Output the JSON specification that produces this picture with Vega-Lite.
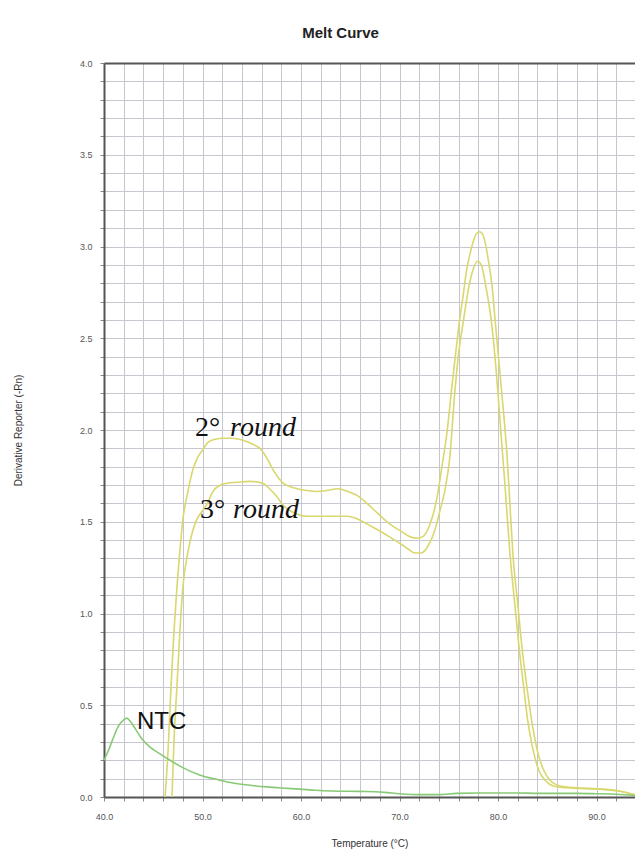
{
  "$schema": "https://vega.github.io/schema/vega-lite/v6.json",
  "width": 531,
  "height": 734,
  "autosize": {"type": "none"},
  "padding": {"left": 104, "top": 63, "right": 0, "bottom": 56},
  "background": "white",
  "title": {"text": "Melt Curve", "font": "Liberation Sans", "fontSize": 15, "fontWeight": "bold", "color": "#222222", "anchor": "middle", "dx": -29, "offset": 18},
  "config": {"view": {"stroke": null}, "font": "Liberation Sans"},
  "datasets": {
    "curves": [
      {"series": "2° round", "t": 46.2, "d": 0},
      {"series": "2° round", "t": 46.5, "d": 0.25},
      {"series": "2° round", "t": 46.8, "d": 0.6},
      {"series": "2° round", "t": 47.1, "d": 0.9},
      {"series": "2° round", "t": 47.4, "d": 1.14},
      {"series": "2° round", "t": 47.7, "d": 1.34},
      {"series": "2° round", "t": 48.0, "d": 1.51},
      {"series": "2° round", "t": 48.5, "d": 1.66},
      {"series": "2° round", "t": 49.0, "d": 1.78},
      {"series": "2° round", "t": 49.5, "d": 1.85},
      {"series": "2° round", "t": 50.0, "d": 1.89},
      {"series": "2° round", "t": 50.5, "d": 1.93},
      {"series": "2° round", "t": 51.0, "d": 1.945},
      {"series": "2° round", "t": 52.0, "d": 1.955},
      {"series": "2° round", "t": 53.0, "d": 1.955},
      {"series": "2° round", "t": 54.0, "d": 1.945},
      {"series": "2° round", "t": 55.0, "d": 1.925},
      {"series": "2° round", "t": 56.0, "d": 1.89},
      {"series": "2° round", "t": 56.6, "d": 1.84},
      {"series": "2° round", "t": 57.2, "d": 1.78},
      {"series": "2° round", "t": 58.2, "d": 1.71},
      {"series": "2° round", "t": 59.6, "d": 1.68},
      {"series": "2° round", "t": 60.6, "d": 1.67},
      {"series": "2° round", "t": 61.6, "d": 1.665},
      {"series": "2° round", "t": 62.6, "d": 1.67},
      {"series": "2° round", "t": 63.7, "d": 1.68},
      {"series": "2° round", "t": 65.0, "d": 1.66},
      {"series": "2° round", "t": 65.8, "d": 1.64},
      {"series": "2° round", "t": 66.7, "d": 1.6},
      {"series": "2° round", "t": 67.5, "d": 1.56},
      {"series": "2° round", "t": 68.3, "d": 1.52},
      {"series": "2° round", "t": 69.2, "d": 1.48},
      {"series": "2° round", "t": 70.1, "d": 1.45},
      {"series": "2° round", "t": 71.0, "d": 1.42},
      {"series": "2° round", "t": 71.8, "d": 1.41},
      {"series": "2° round", "t": 72.4, "d": 1.42},
      {"series": "2° round", "t": 72.8, "d": 1.45},
      {"series": "2° round", "t": 73.3, "d": 1.52},
      {"series": "2° round", "t": 73.8, "d": 1.63},
      {"series": "2° round", "t": 74.3, "d": 1.8},
      {"series": "2° round", "t": 74.8, "d": 1.98},
      {"series": "2° round", "t": 75.3, "d": 2.23},
      {"series": "2° round", "t": 75.7, "d": 2.42},
      {"series": "2° round", "t": 76.1, "d": 2.6},
      {"series": "2° round", "t": 76.5, "d": 2.75},
      {"series": "2° round", "t": 76.8, "d": 2.87},
      {"series": "2° round", "t": 77.2, "d": 2.97},
      {"series": "2° round", "t": 77.5, "d": 3.03},
      {"series": "2° round", "t": 77.8, "d": 3.07},
      {"series": "2° round", "t": 78.1, "d": 3.08},
      {"series": "2° round", "t": 78.4, "d": 3.07},
      {"series": "2° round", "t": 78.7, "d": 3.02},
      {"series": "2° round", "t": 79.0, "d": 2.93},
      {"series": "2° round", "t": 79.4, "d": 2.78},
      {"series": "2° round", "t": 79.7, "d": 2.6},
      {"series": "2° round", "t": 80.0, "d": 2.42},
      {"series": "2° round", "t": 80.5, "d": 2.13},
      {"series": "2° round", "t": 80.9, "d": 1.87},
      {"series": "2° round", "t": 81.2, "d": 1.6},
      {"series": "2° round", "t": 81.5, "d": 1.33},
      {"series": "2° round", "t": 82.0, "d": 1.05},
      {"series": "2° round", "t": 82.5, "d": 0.78},
      {"series": "2° round", "t": 83.0, "d": 0.57},
      {"series": "2° round", "t": 83.4, "d": 0.42},
      {"series": "2° round", "t": 84.0, "d": 0.25},
      {"series": "2° round", "t": 84.6, "d": 0.15},
      {"series": "2° round", "t": 85.3, "d": 0.09},
      {"series": "2° round", "t": 86.3, "d": 0.06},
      {"series": "2° round", "t": 88.0, "d": 0.05},
      {"series": "2° round", "t": 90.0, "d": 0.045},
      {"series": "2° round", "t": 92.0, "d": 0.035},
      {"series": "2° round", "t": 93.0, "d": 0.025},
      {"series": "2° round", "t": 94.0, "d": 0.01},
      {"series": "3° round", "t": 46.9, "d": 0},
      {"series": "3° round", "t": 47.1, "d": 0.3},
      {"series": "3° round", "t": 47.4, "d": 0.6},
      {"series": "3° round", "t": 47.7, "d": 0.9},
      {"series": "3° round", "t": 48.0, "d": 1.14},
      {"series": "3° round", "t": 48.5, "d": 1.33},
      {"series": "3° round", "t": 49.0, "d": 1.45},
      {"series": "3° round", "t": 49.4, "d": 1.51},
      {"series": "3° round", "t": 50.0, "d": 1.56},
      {"series": "3° round", "t": 50.5, "d": 1.6},
      {"series": "3° round", "t": 51.0, "d": 1.66},
      {"series": "3° round", "t": 51.8, "d": 1.7},
      {"series": "3° round", "t": 52.5, "d": 1.71},
      {"series": "3° round", "t": 53.5, "d": 1.715},
      {"series": "3° round", "t": 54.8, "d": 1.72},
      {"series": "3° round", "t": 56.1, "d": 1.71},
      {"series": "3° round", "t": 56.8, "d": 1.68},
      {"series": "3° round", "t": 57.5, "d": 1.64},
      {"series": "3° round", "t": 58.2, "d": 1.59},
      {"series": "3° round", "t": 58.9, "d": 1.56},
      {"series": "3° round", "t": 59.7, "d": 1.54},
      {"series": "3° round", "t": 60.6, "d": 1.53},
      {"series": "3° round", "t": 62.6, "d": 1.53},
      {"series": "3° round", "t": 64.7, "d": 1.53},
      {"series": "3° round", "t": 65.5, "d": 1.52},
      {"series": "3° round", "t": 66.3, "d": 1.5},
      {"series": "3° round", "t": 67.3, "d": 1.47},
      {"series": "3° round", "t": 68.3, "d": 1.44},
      {"series": "3° round", "t": 69.2, "d": 1.41},
      {"series": "3° round", "t": 70.1, "d": 1.38},
      {"series": "3° round", "t": 70.9, "d": 1.35},
      {"series": "3° round", "t": 71.6, "d": 1.33},
      {"series": "3° round", "t": 72.2, "d": 1.33},
      {"series": "3° round", "t": 72.8, "d": 1.36},
      {"series": "3° round", "t": 73.5, "d": 1.44},
      {"series": "3° round", "t": 74.1, "d": 1.56},
      {"series": "3° round", "t": 74.6, "d": 1.67},
      {"series": "3° round", "t": 75.1, "d": 1.85},
      {"series": "3° round", "t": 75.6, "d": 2.2},
      {"series": "3° round", "t": 76.0, "d": 2.42},
      {"series": "3° round", "t": 76.5, "d": 2.6},
      {"series": "3° round", "t": 77.0, "d": 2.77},
      {"series": "3° round", "t": 77.5, "d": 2.88},
      {"series": "3° round", "t": 77.9, "d": 2.92},
      {"series": "3° round", "t": 78.3, "d": 2.9},
      {"series": "3° round", "t": 78.7, "d": 2.8},
      {"series": "3° round", "t": 79.3, "d": 2.6},
      {"series": "3° round", "t": 79.8, "d": 2.33},
      {"series": "3° round", "t": 80.2, "d": 2.05},
      {"series": "3° round", "t": 80.7, "d": 1.7},
      {"series": "3° round", "t": 81.2, "d": 1.33},
      {"series": "3° round", "t": 81.7, "d": 1.05},
      {"series": "3° round", "t": 82.2, "d": 0.78},
      {"series": "3° round", "t": 82.6, "d": 0.6},
      {"series": "3° round", "t": 83.0, "d": 0.42},
      {"series": "3° round", "t": 83.5, "d": 0.27},
      {"series": "3° round", "t": 84.1, "d": 0.15},
      {"series": "3° round", "t": 84.8, "d": 0.09},
      {"series": "3° round", "t": 85.6, "d": 0.06},
      {"series": "3° round", "t": 87.0, "d": 0.05},
      {"series": "3° round", "t": 89.0, "d": 0.045},
      {"series": "3° round", "t": 91.0, "d": 0.04},
      {"series": "3° round", "t": 92.5, "d": 0.03},
      {"series": "3° round", "t": 94.0, "d": 0.01},
      {"series": "NTC", "t": 40.0, "d": 0.2},
      {"series": "NTC", "t": 40.5, "d": 0.26},
      {"series": "NTC", "t": 41.0, "d": 0.33},
      {"series": "NTC", "t": 41.5, "d": 0.39},
      {"series": "NTC", "t": 42.0, "d": 0.42},
      {"series": "NTC", "t": 42.3, "d": 0.43},
      {"series": "NTC", "t": 42.7, "d": 0.41},
      {"series": "NTC", "t": 43.2, "d": 0.37},
      {"series": "NTC", "t": 43.8, "d": 0.32},
      {"series": "NTC", "t": 44.7, "d": 0.27},
      {"series": "NTC", "t": 45.7, "d": 0.235},
      {"series": "NTC", "t": 46.7, "d": 0.2},
      {"series": "NTC", "t": 48.0, "d": 0.16},
      {"series": "NTC", "t": 49.7, "d": 0.12},
      {"series": "NTC", "t": 51.5, "d": 0.095},
      {"series": "NTC", "t": 53.1, "d": 0.076},
      {"series": "NTC", "t": 55.0, "d": 0.063},
      {"series": "NTC", "t": 56.5, "d": 0.055},
      {"series": "NTC", "t": 58.0, "d": 0.049},
      {"series": "NTC", "t": 59.9, "d": 0.043},
      {"series": "NTC", "t": 61.5, "d": 0.037},
      {"series": "NTC", "t": 63.2, "d": 0.033},
      {"series": "NTC", "t": 65.0, "d": 0.031},
      {"series": "NTC", "t": 66.7, "d": 0.03},
      {"series": "NTC", "t": 68.5, "d": 0.025},
      {"series": "NTC", "t": 70.0, "d": 0.018},
      {"series": "NTC", "t": 72.0, "d": 0.013},
      {"series": "NTC", "t": 74.0, "d": 0.013},
      {"series": "NTC", "t": 75.8, "d": 0.02},
      {"series": "NTC", "t": 78.0, "d": 0.022},
      {"series": "NTC", "t": 80.0, "d": 0.022},
      {"series": "NTC", "t": 82.0, "d": 0.022},
      {"series": "NTC", "t": 84.0, "d": 0.02},
      {"series": "NTC", "t": 86.0, "d": 0.02},
      {"series": "NTC", "t": 88.0, "d": 0.02},
      {"series": "NTC", "t": 90.0, "d": 0.018},
      {"series": "NTC", "t": 92.0, "d": 0.015},
      {"series": "NTC", "t": 94.0, "d": 0.008}
    ],
    "labels": [
      {"kind": "num", "label": "2°", "x": 49.24, "y": 1.97},
      {"kind": "word", "label": "round", "x": 52.8, "y": 1.97},
      {"kind": "num", "label": "3°", "x": 49.75, "y": 1.52},
      {"kind": "word", "label": "round", "x": 53.1, "y": 1.52},
      {"kind": "ntc", "label": "NTC", "x": 43.35, "y": 0.37}
    ]
  },
  "layer": [
    {
      "data": {"name": "curves"},
      "mark": {"type": "line", "interpolate": "monotone", "strokeWidth": 1.6, "clip": true},
      "encoding": {
        "x": {
          "field": "t", "type": "quantitative",
          "scale": {"domain": [40, 93.9], "nice": false, "zero": false},
          "axis": {
            "values": [40,42,44,46,48,50,52,54,56,58,60,62,64,66,68,70,72,74,76,78,80,82,84,86,88,90,92],
            "labelExpr": "datum.value % 10 === 0 ? format(datum.value, '.1f') : ''",
            "grid": true, "gridColor": "#c6c6ce", "gridWidth": 1,
            "domainColor": "#555555", "domainWidth": 2,
            "tickColor": "#888888", "tickSize": 4,
            "labelFontSize": 9, "labelColor": "#555555", "labelPadding": 11, "labelFlush": false,
            "title": "Temperature (°C)", "titleFontSize": 10, "titleFontWeight": "normal", "titleColor": "#333333",
            "titleY": 46, "titleBaseline": "middle"
          }
        },
        "y": {
          "field": "d", "type": "quantitative",
          "scale": {"domain": [0, 4], "nice": false},
          "axis": {
            "values": [0,0.1,0.2,0.3,0.4,0.5,0.6,0.7,0.8,0.9,1,1.1,1.2,1.3,1.4,1.5,1.6,1.7,1.8,1.9,2,2.1,2.2,2.3,2.4,2.5,2.6,2.7,2.8,2.9,3,3.1,3.2,3.3,3.4,3.5,3.6,3.7,3.8,3.9,4],
            "labelExpr": "abs(datum.value * 2 - round(datum.value * 2)) < 0.001 ? format(datum.value, '.1f') : ''",
            "labelOverlap": false,
            "grid": true, "gridColor": "#c6c6ce", "gridWidth": 1,
            "domainColor": "#555555", "domainWidth": 2,
            "tickColor": "#888888", "tickSize": 4,
            "labelFontSize": 9, "labelColor": "#555555", "labelPadding": 8,
            "title": "Derivative Reporter (-Rn)", "titleFontSize": 10, "titleFontWeight": "normal", "titleColor": "#333333",
            "titleX": -86, "titleY": 367, "titleAngle": -90, "titleAlign": "center", "titleBaseline": "middle"
          }
        },
        "color": {
          "field": "series", "type": "nominal",
          "scale": {"domain": ["2° round", "3° round", "NTC"], "range": ["#d8d86e", "#d8d86e", "#88c976"]},
          "legend": null
        }
      }
    },
    {
      "data": {"name": "labels"},
      "transform": [{"filter": "datum.kind === 'num'"}],
      "mark": {"type": "text", "font": "Liberation Serif", "fontSize": 28, "align": "left", "baseline": "alphabetic", "color": "#111111"},
      "encoding": {
        "x": {"field": "x", "type": "quantitative", "axis": {"orient": "top", "labels": false, "ticks": false, "grid": false, "domain": true, "domainColor": "#555555", "domainWidth": 2, "title": null}},
        "y": {"field": "y", "type": "quantitative", "axis": null},
        "text": {"field": "label"}
      }
    },
    {
      "data": {"name": "labels"},
      "transform": [{"filter": "datum.kind === 'word'"}],
      "mark": {"type": "text", "font": "Liberation Serif", "fontSize": 28, "fontStyle": "italic", "align": "left", "baseline": "alphabetic", "color": "#111111"},
      "encoding": {
        "x": {"field": "x", "type": "quantitative", "axis": null},
        "y": {"field": "y", "type": "quantitative", "axis": null},
        "text": {"field": "label"}
      }
    },
    {
      "data": {"name": "labels"},
      "transform": [{"filter": "datum.kind === 'ntc'"}],
      "mark": {"type": "text", "font": "Liberation Sans", "fontSize": 24, "align": "left", "baseline": "alphabetic", "color": "#111111"},
      "encoding": {
        "x": {"field": "x", "type": "quantitative", "axis": null},
        "y": {"field": "y", "type": "quantitative", "axis": null},
        "text": {"field": "label"}
      }
    }
  ],
  "resolve": {"axis": {"x": "independent", "y": "independent"}}
}
